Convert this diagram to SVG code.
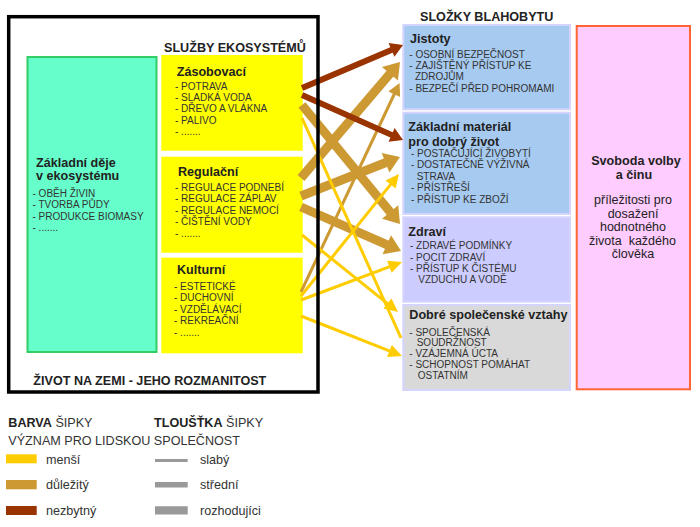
<svg xmlns="http://www.w3.org/2000/svg" width="700" height="527" viewBox="0 0 700 527">
<style>
text { font-family: "Liberation Sans", Arial, sans-serif; fill: #222; }
.h { font-weight: bold; font-size: 12.6px; }
.i { font-size: 10px; fill: #333; }
.p { font-size: 12.5px; fill: #222; text-anchor: middle; }
.lg { font-size: 12.6px; fill: #333; }
.red { stroke: #993300; stroke-width: 6; fill: none; }
.tan { stroke: #cc9933; stroke-width: 9; fill: none; }
.tant { stroke: #cc9933; stroke-width: 3; fill: none; }
.yel { stroke: #ffcc00; stroke-width: 3; fill: none; }
.yb { fill: #ffff00; }
.blue { stroke: #d4d4ff; stroke-width: 2; }
</style>
<defs>
<marker id="mRed" markerUnits="userSpaceOnUse" orient="auto" refX="0" refY="0" markerWidth="20" markerHeight="20" overflow="visible"><path d="M-0.5,-7.5 L12,0 L-0.5,7.5 Z" fill="#993300"/></marker>
<marker id="mTan" markerUnits="userSpaceOnUse" orient="auto" refX="0" refY="0" markerWidth="20" markerHeight="20" overflow="visible"><path d="M-0.5,-10.5 L15,0 L-0.5,10.5 Z" fill="#cc9933"/></marker>
<marker id="mTanT" markerUnits="userSpaceOnUse" orient="auto" refX="0" refY="0" markerWidth="20" markerHeight="20" overflow="visible"><path d="M-0.5,-6.5 L12,0 L-0.5,6.5 Z" fill="#cc9933"/></marker>
<marker id="mYel" markerUnits="userSpaceOnUse" orient="auto" refX="0" refY="0" markerWidth="20" markerHeight="20" overflow="visible"><path d="M-0.5,-6.5 L13,0 L-0.5,6.5 Z" fill="#ffcc00"/></marker>
</defs>
<rect x="0" y="0" width="700" height="527" fill="#ffffff"/>

<g id="sluzby-title"><text class="h" x="164" y="51.5">SLUŽBY EKOSYSTÉMŮ</text></g>

<g id="zakladni-deje">
<rect x="27.5" y="57" width="129" height="295" fill="#66ffcc" stroke="#33cc66" stroke-width="2"/>
<text class="h" x="36" y="166.5">Základní děje</text>
<text class="h" x="36" y="180">v ekosystému</text>
<text class="i" x="32.5" y="197">- OBĚH ŽIVIN</text>
<text class="i" x="32.5" y="208.3">- TVORBA PŮDY</text>
<text class="i" x="32.5" y="219.6">- PRODUKCE BIOMASY</text>
<text class="i" x="32.5" y="231">- .......</text>
</g>

<g id="zasobovaci">
<rect class="yb" x="161.3" y="55" width="141.4" height="95.7"/>
<text class="h" x="176.7" y="75.5">Zásobovací</text>
<text class="i" x="175" y="89.5">- POTRAVA</text>
<text class="i" x="175" y="100.9">- SLADKÁ VODA</text>
<text class="i" x="175" y="112.3">- DŘEVO A VLÁKNA</text>
<text class="i" x="175" y="123.7">- PALIVO</text>
<text class="i" x="175" y="135.1">- .......</text>
</g>

<g id="regulacni">
<rect class="yb" x="161.3" y="156.7" width="141.4" height="96"/>
<text class="h" x="178" y="175.5">Regulační</text>
<text class="i" x="175" y="191">- REGULACE PODNEBÍ</text>
<text class="i" x="175" y="202.4">- REGULACE ZÁPLAV</text>
<text class="i" x="175" y="213.8">- REGULACE NEMOCÍ</text>
<text class="i" x="175" y="225.2">- ČIŠTĚNÍ VODY</text>
<text class="i" x="175" y="236.6">- .......</text>
</g>

<g id="kulturni">
<rect class="yb" x="161.3" y="257.7" width="141.4" height="95.6"/>
<text class="h" x="177" y="273.5">Kulturní</text>
<text class="i" x="174" y="290">- ESTETICKÉ</text>
<text class="i" x="174" y="301.4">- DUCHOVNÍ</text>
<text class="i" x="174" y="312.8">- VZDĚLÁVACÍ</text>
<text class="i" x="174" y="324.2">- REKREAČNÍ</text>
<text class="i" x="174" y="335.6">- .......</text>
</g>

<g id="zivot-title"><text class="h" x="33.3" y="385">ŽIVOT NA ZEMI - JEHO ROZMANITOST</text></g>

<g id="blahobyt-title"><text class="h" x="420" y="20.7">SLOŽKY BLAHOBYTU</text></g>

<g id="jistoty">
<rect class="blue" x="403.3" y="25" width="166.7" height="84.3" fill="#a6caf0"/>
<text class="h" x="410" y="43.3">Jistoty</text>
<text class="i" x="409.3" y="58.3">- OSOBNÍ BEZPEČNOST</text>
<text class="i" x="409.3" y="69.3">- ZAJIŠTĚNÝ PŘÍSTUP KE</text>
<text class="i" x="415" y="80.3">ZDROJŮM</text>
<text class="i" x="409.3" y="91.6">- BEZPEČÍ PŘED POHROMAMI</text>
</g>

<g id="zakladni-material">
<rect class="blue" x="403.3" y="112.7" width="166.7" height="101.3" fill="#a6caf0"/>
<text class="h" x="408.3" y="130.7">Základní materiál</text>
<text class="h" x="408.3" y="145.7">pro dobrý život</text>
<text class="i" x="411" y="156.7">- POSTAČUJÍCÍ ŽIVOBYTÍ</text>
<text class="i" x="411" y="168.3">- DOSTATEČNĚ VÝŽIVNÁ</text>
<text class="i" x="416.7" y="180">STRAVA</text>
<text class="i" x="411" y="191.2">- PŘÍSTŘEŠÍ</text>
<text class="i" x="411" y="202.7">- PŘÍSTUP KE ZBOŽÍ</text>
</g>

<g id="zdravi">
<rect class="blue" x="403.3" y="217.3" width="166.7" height="84.4" fill="#ccccff"/>
<text class="h" x="408.3" y="236">Zdraví</text>
<text class="i" x="410" y="249.3">- ZDRAVÉ PODMÍNKY</text>
<text class="i" x="410" y="260.5">- POCIT ZDRAVÍ</text>
<text class="i" x="410" y="271.7">- PŘÍSTUP K ČISTÉMU</text>
<text class="i" x="418.3" y="282.8">VZDUCHU A VODĚ</text>
</g>

<g id="spolecenske-vztahy">
<rect class="blue" x="403.3" y="305" width="166.7" height="85" fill="#d9d9d9"/>
<text class="h" x="409.3" y="319">Dobré společenské vztahy</text>
<text class="i" x="409.3" y="335.7">- SPOLEČENSKÁ</text>
<text class="i" x="416.7" y="346.4">SOUDRŽNOST</text>
<text class="i" x="409.3" y="357.4">- VZÁJEMNÁ ÚCTA</text>
<text class="i" x="409.3" y="368.4">- SCHOPNOST POMÁHAT</text>
<text class="i" x="417.7" y="379.4">OSTATNÍM</text>
</g>

<g id="svoboda">
<rect x="576.7" y="26" width="113.3" height="363.3" fill="#ffccff" stroke="#ff6633" stroke-width="2"/>
<text class="h" x="636" y="165" text-anchor="middle">Svoboda volby</text>
<text class="h" x="634" y="178.5" text-anchor="middle">a činu</text>
<text class="p" x="633" y="204">příležitosti pro</text>
<text class="p" x="633" y="217.5">dosažení</text>
<text class="p" x="633" y="231">hodnotného</text>
<text class="p" x="632.5" y="244.5" xml:space="preserve">života  každého</text>
<text class="p" x="633" y="258">člověka</text>
</g>

<g id="connectors">
<line class="tan" x1="301" y1="178" x2="390.26" y2="73.41" marker-end="url(#mTan)"/>
<line class="tan" x1="301" y1="196" x2="386.05" y2="162.5" marker-end="url(#mTan)"/>
<line class="tan" x1="301" y1="207" x2="387.28" y2="244.96" marker-end="url(#mTan)"/>
<line class="tan" x1="302" y1="105" x2="390.46" y2="212.42" marker-end="url(#mTan)"/>
<line class="tant" x1="301" y1="292" x2="394.46" y2="93.75" marker-end="url(#mTanT)"/>
<line class="yel" x1="302" y1="118" x2="401" y2="338"/>
<line class="yel" x1="302" y1="235" x2="387.86" y2="303.86" marker-end="url(#mYel)"/>
<line class="yel" x1="301" y1="296" x2="390.86" y2="184.14" marker-end="url(#mYel)"/>
<line class="yel" x1="301" y1="300" x2="389.83" y2="266.58" marker-end="url(#mYel)"/>
<line class="yel" x1="301" y1="316" x2="389.91" y2="351.21" marker-end="url(#mYel)"/>
<line class="red" x1="302" y1="88" x2="391.96" y2="49.7" marker-end="url(#mRed)"/>
<line class="red" x1="302" y1="95" x2="392.04" y2="135.12" marker-end="url(#mRed)"/>
</g>

<g id="zivot-na-zemi-frame">
<rect x="8.7" y="16.7" width="309.3" height="375.3" fill="none" stroke="#000" stroke-width="3.5"/>
</g>

<g id="legend">
<text class="lg" x="8.3" y="427.3"><tspan font-weight="bold" fill="#222">BARVA</tspan> ŠIPKY</text>
<text class="lg" x="154" y="427.3"><tspan font-weight="bold" fill="#222">TLOUŠŤKA</tspan> ŠIPKY</text>
<text class="lg" x="8.3" y="445">VÝZNAM PRO LIDSKOU SPOLEČNOST</text>
<rect x="6" y="454.3" width="30.7" height="9" fill="#ffcc00"/>
<text class="lg" x="46" y="463.5">menší</text>
<rect x="6" y="480" width="30.7" height="9.3" fill="#cc9933"/>
<text class="lg" x="46" y="489">důležitý</text>
<rect x="6" y="506" width="30.7" height="9" fill="#993300"/>
<text class="lg" x="46" y="514.5">nezbytný</text>
<line x1="155" y1="460.5" x2="187.7" y2="460.5" stroke="#999" stroke-width="3"/>
<text class="lg" x="200" y="463.5">slabý</text>
<line x1="155" y1="484.8" x2="187.7" y2="484.8" stroke="#999" stroke-width="5.5"/>
<text class="lg" x="200" y="489">střední</text>
<line x1="155" y1="510.3" x2="187.7" y2="510.3" stroke="#999" stroke-width="8.3"/>
<text class="lg" x="200" y="514.5">rozhodujíci</text>
</g>
</svg>
